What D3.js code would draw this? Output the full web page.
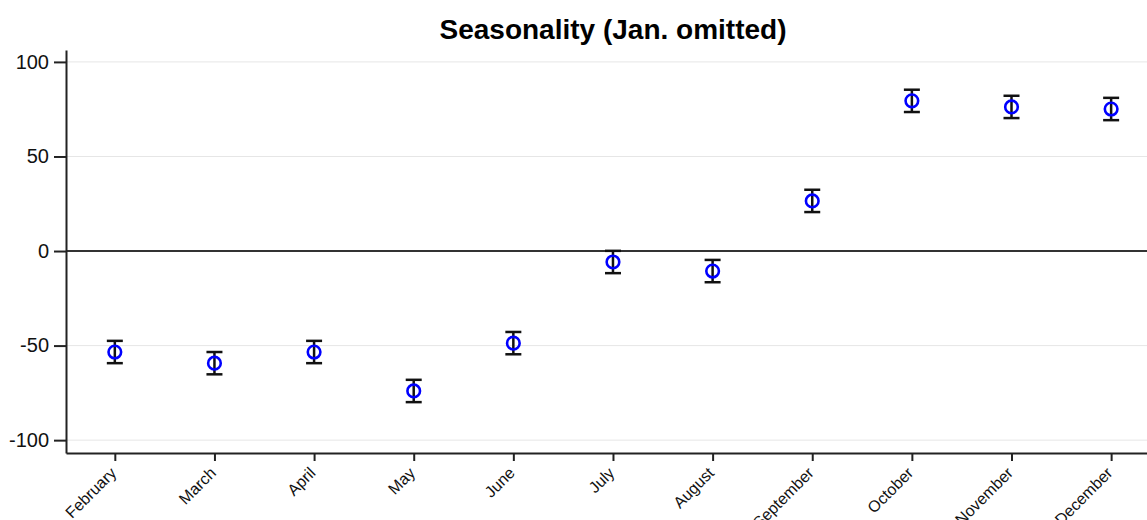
<!DOCTYPE html>
<html>
<head>
<meta charset="utf-8">
<script src="https://cdn.jsdelivr.net/npm/d3@7"></script>
<style>
  body { margin: 0; background: #fff; }
  svg { display: block; font-family: Arial, "Liberation Sans", sans-serif; }
</style>
</head>
<body>
<svg id="chart" width="1147" height="520"></svg>
<script>
// Monthly seasonal effects relative to January, with 95% intervals
const months = [2, 3, 4, 5, 6, 7, 8, 9, 10, 11, 12];
const monthNames = ["February", "March", "April", "May", "June", "July",
                    "August", "September", "October", "November", "December"];
const estimates = [-53.4, -59.3, -53.4, -74.0, -48.7, -5.8, -10.6, 26.5, 79.4, 76.2, 75.1];
const lowerCI   = [-59.3, -65.2, -59.3, -79.9, -54.6, -11.7, -16.5, 20.6, 73.5, 70.3, 69.2];
const upperCI   = [-47.5, -53.4, -47.5, -68.1, -42.8, 0.1, -4.7, 32.4, 85.3, 82.1, 81.0];
const yTicks = [-100, -50, 0, 50, 100];

const svg = d3.select("#chart");
const plotLeft = 66, plotRight = 1147, plotTop = 50, plotBottom = 453;
const font = "Arial, 'Liberation Sans', sans-serif";

const x = d3.scaleLinear().domain([1.51, 12.36]).range([plotLeft, plotRight]);
const y = d3.scaleLinear().domain([-106.8, 106.3]).range([plotBottom, plotTop]);

// Horizontal grid lines
svg.append("g")
  .selectAll("line")
  .data(yTicks.filter(d => d !== 0))
  .join("line")
  .attr("x1", plotLeft).attr("x2", plotRight)
  .attr("y1", d => y(d)).attr("y2", d => y(d))
  .attr("stroke", "#e6e6e6").attr("stroke-width", 1);

// Reference line at zero
svg.append("line")
  .attr("x1", plotLeft).attr("x2", plotRight)
  .attr("y1", y(0)).attr("y2", y(0))
  .attr("stroke", "#333").attr("stroke-width", 2);

// Y axis
const yAxis = svg.append("g")
  .attr("transform", `translate(${plotLeft},0)`)
  .call(d3.axisLeft(y).tickValues(yTicks).tickSizeInner(12).tickSizeOuter(0)
    .tickPadding(5).tickFormat(d => String(d)));
yAxis.select(".domain").attr("stroke", "#222").attr("stroke-width", 2);
yAxis.selectAll(".tick line").attr("stroke", "#222").attr("stroke-width", 2);
yAxis.selectAll(".tick text").attr("font-size", 20).attr("fill", "#111")
  .attr("font-family", font);

// X axis
const xAxis = svg.append("g")
  .attr("transform", `translate(0,${plotBottom})`)
  .call(d3.axisBottom(x).tickValues(months).tickSizeInner(8).tickSizeOuter(0)
    .tickFormat((d, i) => monthNames[i]));
xAxis.select(".domain").attr("stroke", "#222").attr("stroke-width", 2);
xAxis.selectAll(".tick line").attr("stroke", "#222").attr("stroke-width", 2);
xAxis.selectAll(".tick text")
  .attr("font-size", 16).attr("fill", "#111")
  .attr("font-family", font)
  .attr("text-anchor", "end")
  .attr("dy", null)
  .attr("y", 0)
  .attr("transform", "translate(2,21) rotate(-45)");

// Error bars with caps
const capW = 8;
const bars = svg.append("g")
  .selectAll("g")
  .data(months.map((m, i) => ({ m, est: estimates[i], lo: lowerCI[i], hi: upperCI[i] })))
  .join("g");
bars.append("line")
  .attr("x1", d => x(d.m)).attr("x2", d => x(d.m))
  .attr("y1", d => y(d.lo)).attr("y2", d => y(d.hi))
  .attr("stroke", "#111").attr("stroke-width", 2.5);
bars.append("line")
  .attr("x1", d => x(d.m) - capW).attr("x2", d => x(d.m) + capW)
  .attr("y1", d => y(d.hi)).attr("y2", d => y(d.hi))
  .attr("stroke", "#111").attr("stroke-width", 2.5);
bars.append("line")
  .attr("x1", d => x(d.m) - capW).attr("x2", d => x(d.m) + capW)
  .attr("y1", d => y(d.lo)).attr("y2", d => y(d.lo))
  .attr("stroke", "#111").attr("stroke-width", 2.5);

// Point estimates
bars.append("circle")
  .attr("cx", d => x(d.m)).attr("cy", d => y(d.est))
  .attr("r", 6.3)
  .attr("fill", "none")
  .attr("stroke", "#0000ff").attr("stroke-width", 2.6);

// Title
svg.append("text")
  .attr("x", 613).attr("y", 39)
  .attr("text-anchor", "middle")
  .attr("font-family", font)
  .attr("font-size", 28).attr("font-weight", "bold").attr("fill", "#000")
  .text("Seasonality (Jan. omitted)");
</script>
</body>
</html>
